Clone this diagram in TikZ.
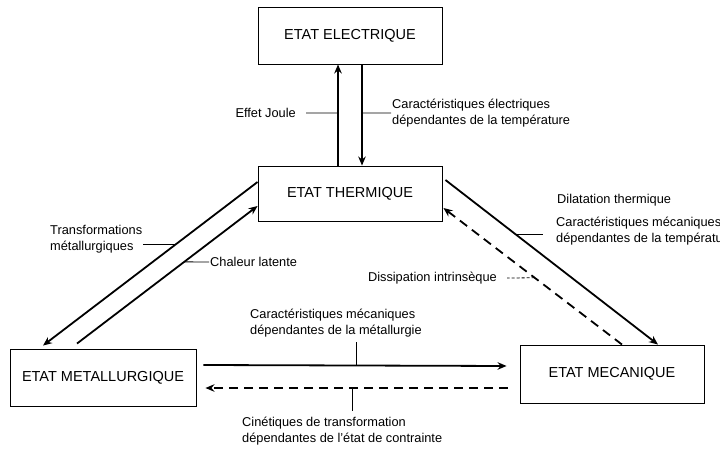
\documentclass[tikz,border=0pt]{standalone}
\usepackage{fontspec}
\setmainfont{Liberation Sans}
\usetikzlibrary{arrows.meta}
\begin{document}
\begin{tikzpicture}[x=1pt,y=-1pt,
  box/.style={draw,line width=0.9pt,minimum width=184pt,minimum height=57pt,inner sep=0pt,font=\fontsize{14.5}{17}\selectfont},
  lab/.style={font=\fontsize{12.8}{16}\selectfont,align=left,inner sep=1pt},
  arr/.style={line width=1.8pt,-{Stealth[length=9pt,width=7.5pt]}},
  darr/.style={arr,dash pattern=on 9pt off 6pt},
  lead/.style={line width=0.8pt}]
\useasboundingbox (0,0) rectangle (720,454);

% boxes
\node[box] (elec) at (350,35.5) {ETAT ELECTRIQUE};
\node[box,minimum height=55pt] (therm) at (350,193.5) {ETAT THERMIQUE};
\node[box,minimum width=186pt] (meta) at (103,377.5) {ETAT METALLURGIQUE};
\node[box,minimum height=58pt] (meca) at (612,374) {ETAT MECANIQUE};

% thermique <-> electrique
\draw[arr] ([xshift=-12pt]therm.north) -- ([xshift=-12pt]elec.south) coordinate[pos=0.52] (jl);
\draw[arr] ([xshift=12pt]elec.south) -- ([xshift=12pt]therm.north) coordinate[pos=0.48] (ce);
\node[lab,anchor=east,inner xsep=10pt] (joule) at (306,113) {Effet Joule};
\node[lab,anchor=west] (celab) at (391,113) {Caractéristiques électriques\\dépendantes de la température};
\draw[lead] (jl) -- (joule.east);
\draw[lead] (ce) -- (celab.west);

% thermique <-> metallurgique
\draw[arr] ([yshift=11.5pt]therm.west) -- ([xshift=-60pt,yshift=3pt]meta.north) coordinate[pos=0.384] (l1);
\draw[arr] ([xshift=-26pt,yshift=5pt]meta.north) -- ([yshift=-12.5pt]therm.west) coordinate[pos=0.594] (l2);
\node[lab,anchor=west] (trans) at (49,239.5) {Transformations\\métallurgiques};
\node[lab,anchor=west] (chal) at (209,262) {Chaleur latente};
\draw[lead] (l1) -- (l1 -| trans.east);
\draw[lead] (l2) -- (chal.west);

% thermique <-> mecanique
\draw[arr] ([xshift=3pt,yshift=13.5pt]therm.east) -- ([xshift=46pt]meca.north) coordinate[pos=0.333] (l3);
\draw[darr] ([xshift=10pt]meca.north) -- ([xshift=1pt,yshift=-14.5pt]therm.east) coordinate[pos=0.489] (l4);
\node[lab,anchor=west] (dil) at (556,200) {Dilatation thermique};
\node[lab,anchor=west,inner xsep=13pt] (cmt) at (543,231) {Caractéristiques mécaniques\\dépendantes de la température};
\node[lab,anchor=east,inner xsep=10pt] (diss) at (507,278) {Dissipation intrinsèque};
\draw[lead] (l3) -- (l3 -| cmt.west);
\draw[lead,dash pattern=on 3pt off 2pt] (l4) -- (diss.east);

% metallurgique <-> mecanique
\draw[arr] ([xshift=7pt,yshift=12.5pt]meta.east) -- ([xshift=-13pt,yshift=8pt]meca.west) coordinate[pos=0.503] (h1);
\draw[darr] ([xshift=-12pt,yshift=-14pt]meca.west) -- ([xshift=9pt,yshift=-10.5pt]meta.east) coordinate[pos=0.512] (h2);
\node[lab,anchor=south west,inner ysep=5pt] (cmm) at (249,342) {Caractéristiques mécaniques\\dépendantes de la métallurgie};
\node[lab,anchor=north west,inner ysep=6pt] (cin) at (241,411) {Cinétiques de transformation\\dépendantes de l'état de contrainte};
\draw[lead] (h1) -- (h1 |- cmm.south);
\draw[lead] (h2) -- (h2 |- cin.north);
\end{tikzpicture}
\end{document}
